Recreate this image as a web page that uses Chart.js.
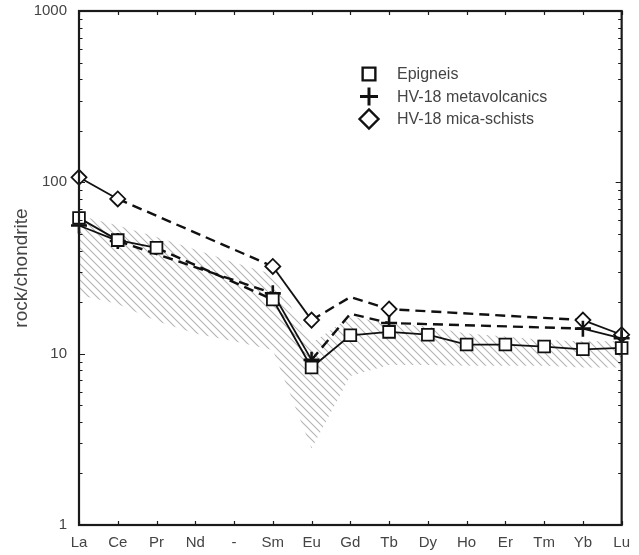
<!DOCTYPE html>
<html>
<head>
<meta charset="utf-8">
<script src="https://cdn.jsdelivr.net/npm/chart.js@4.4.0/dist/chart.umd.min.js"></script>
<style>
  html, body { margin: 0; padding: 0; background: #fff; }
  #wrap { width: 639px; height: 555px; }
</style>
</head>
<body>
<div id="wrap"><canvas id="reeChart"></canvas></div>
<script>
// REE elements on the x axis ("-" is the empty Pm slot)
const elements = ["La", "Ce", "Pr", "Nd", "-", "Sm", "Eu", "Gd", "Tb", "Dy", "Ho", "Er", "Tm", "Yb", "Lu"];

// rock/chondrite values
const epigneis      = [62, 46, 41.5, null, null, 20.7, 8.3, 12.8, 13.4, 12.9, 11.3, 11.3, 11.0, 10.6, 10.8];
const metavolcanics = [56, 45.5, null, null, null, 22.5, 9.2, 17.1, 15.1, null, null, null, null, 14.0, 12.3];
const micaSchists   = [107, 80, null, null, null, 32.3, 15.7, 21.4, 18.2, null, null, null, null, 15.7, 12.9];

// elements actually analysed in the HV-18 samples (the rest is dashed only)
const hvMeasured = ["La", "Ce", "Sm", "Eu", "Tb", "Yb", "Lu"];

// hatched reference field
const fieldUpper = [64, 56, 48, 40.5, 34, 29, 11.5, 16.5, 15, 14.4, 13.1, 12.6, 12, 11.8, 11.8];
const fieldLower = [22, 19.5, 15.5, 13.1, 11.8, 10.5, 2.8, 7.4, 8.6, 8.6, 8.5, 8.5, 8.5, 8.3, 8.3];

// y axis labels / tick marks
const yLabels = [1, 10, 100, 1000];

Chart.defaults.font.family = '"Liberation Sans", Arial, Helvetica, sans-serif';
Chart.defaults.color = "#444";

function hatchPattern() {
  const c = document.createElement("canvas");
  c.width = c.height = 8;
  const g = c.getContext("2d");
  g.strokeStyle = "#b4b4b4";
  g.lineWidth = 1.1;
  g.beginPath();
  g.moveTo(0, 0); g.lineTo(8, 8);
  g.moveTo(-1, 7); g.lineTo(1, 9);
  g.moveTo(7, -1); g.lineTo(9, 1);
  g.stroke();
  return g.createPattern(c, "repeat");
}

// dashed where a point is missing or only estimated
function isDashed(ctx, measured) {
  if (ctx.p0.skip || ctx.p1.skip) return true;
  if (!measured) return false;
  return !measured.includes(elements[ctx.p0DataIndex]) || !measured.includes(elements[ctx.p1DataIndex]);
}

function series(label, values, style, radius, measured, order) {
  return {
    label,
    data: values,
    order,
    borderColor: "#111",
    borderWidth: 1.8,
    spanGaps: true,
    tension: 0,
    fill: false,
    pointStyle: style,
    pointRadius: ctx => (!measured || measured.includes(elements[ctx.dataIndex])) ? radius : 0,
    pointBackgroundColor: "#fff",
    pointBorderColor: "#111",
    pointBorderWidth: style === "cross" ? 2.6 : 1.8,
    segment: {
      borderDash: ctx => isDashed(ctx, measured) ? [10, 6] : undefined,
      borderWidth: ctx => isDashed(ctx, measured) ? 2.4 : undefined
    },
    legendRadius: style === "rectRot" ? 9.5 : 9
  };
}

// inside legend, frame and inward tick marks
const framePlugin = {
  id: "frame",
  afterDraw(chart) {
    const { ctx, chartArea: a, scales } = chart;
    ctx.save();
    ctx.strokeStyle = "#1a1a1a";
    ctx.lineWidth = 1.2;
    ctx.beginPath();
    for (let k = 0; k < 3; k++) {
      for (let m = 1; m <= 9; m++) {
        const v = m * Math.pow(10, k);
        const y = Math.round(scales.y.getPixelForValue(v)) + 0.5;
        const len = m === 1 ? 6 : 3.5;
        ctx.moveTo(a.left, y); ctx.lineTo(a.left + len, y);
        ctx.moveTo(a.right, y); ctx.lineTo(a.right - len, y);
      }
    }
    elements.forEach((e, i) => {
      const x = Math.round(scales.x.getPixelForValue(i)) + 0.5;
      ctx.moveTo(x, a.bottom); ctx.lineTo(x, a.bottom - 4);
      ctx.moveTo(x, a.top); ctx.lineTo(x, a.top + 4);
    });
    ctx.stroke();
    ctx.lineWidth = 2.2;
    ctx.strokeRect(a.left, a.top, a.right - a.left, a.bottom - a.top);

    // legend
    const items = chart.data.datasets.filter(d => d.legendRadius);
    ctx.font = '16px "Liberation Sans", Arial, sans-serif';
    ctx.textBaseline = "middle";
    items.forEach((d, i) => {
      const y = 74 + i * 22.5;
      ctx.fillStyle = "#fff";
      ctx.strokeStyle = "#111";
      ctx.lineWidth = d.pointStyle === "cross" ? 3 : 2.4;
      Chart.helpers.drawPoint(ctx, {
        pointStyle: d.pointStyle, radius: d.legendRadius, rotation: 0, borderWidth: ctx.lineWidth
      }, 369, y);
      ctx.fillStyle = "#444";
      ctx.fillText(d.label, 397, y + 1);
    });
    ctx.restore();
  }
};

new Chart(document.getElementById("reeChart"), {
  type: "line",
  data: {
    labels: elements,
    datasets: [
      series("Epigneis", epigneis, "rect", 8.3, null, 1),
      series("HV-18 metavolcanics", metavolcanics, "cross", 8, hvMeasured, 2),
      series("HV-18 mica-schists", micaSchists, "rectRot", 7.5, hvMeasured, 3),
      {
        label: "field lower",
        data: fieldLower,
        order: 10,
        borderWidth: 0,
        pointRadius: 0,
        fill: false
      },
      {
        label: "field upper",
        data: fieldUpper,
        order: 9,
        borderWidth: 0,
        pointRadius: 0,
        fill: "-1",
        backgroundColor: hatchPattern()
      }
    ]
  },
  options: {
    responsive: true,
    maintainAspectRatio: false,
    animation: false,
    layout: { padding: { left: 0, right: 16, top: 0, bottom: 0 } },
    plugins: {
      legend: { display: false },
      tooltip: { enabled: false }
    },
    scales: {
      x: {
        type: "category",
        offset: false,
        grid: { display: false, drawTicks: false },
        border: { display: false },
        ticks: { font: { size: 15 }, padding: 9, autoSkip: false, maxRotation: 0 },
        afterFit: s => { s.height = 30; }
      },
      y: {
        type: "logarithmic",
        min: 1,
        max: 1000,
        grid: { display: false, drawTicks: false },
        border: { display: false },
        ticks: {
          autoSkip: false,
          font: { size: 15 },
          padding: 12,
          callback: v => yLabels.includes(v) ? String(v) : ""
        },
        title: {
          display: true,
          text: "rock/chondrite",
          font: { size: 19 },
          color: "#444",
          padding: { top: 10 }
        },
        afterFit: s => { s.width = 79; s.paddingTop = 11; s.paddingBottom = 0; }
      }
    }
  },
  plugins: [framePlugin]
});
</script>
</body>
</html>
